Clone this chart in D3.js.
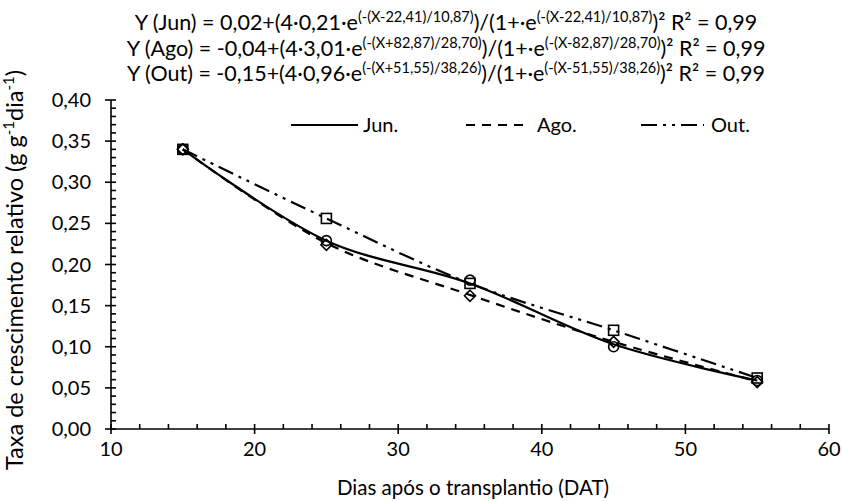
<!DOCTYPE html>
<html>
<head>
<meta charset="utf-8">
<script src="https://cdn.jsdelivr.net/npm/d3@7"></script>
<style>
  html, body { margin: 0; padding: 0; background: #fff; }
  svg text { font-family: Lato, "Open Sans", sans-serif; fill: #000; }
</style>
</head>
<body>
<svg id="chart" width="842" height="501"></svg>
<script>
// Days after transplanting
const days = [15, 25, 35, 45, 55];

// Relative growth rate, observed (markers)
const junObs = [0.340, 0.229, 0.181, 0.100, 0.059];
const agoObs = [0.340, 0.224, 0.162, 0.106, 0.057];
const outObs = [0.340, 0.256, 0.177, 0.120, 0.062];

// Relative growth rate, fitted curves (lines)
const junFit = [0.340, 0.229, 0.177, 0.103, 0.059];
const agoFit = [0.340, 0.226, 0.163, 0.106, 0.058];
const outFit = [0.340, 0.256, 0.177, 0.120, 0.062];

const xTicks = [10, 20, 30, 40, 50, 60];
const yTicks = [0, 0.05, 0.10, 0.15, 0.20, 0.25, 0.30, 0.35, 0.40];

// Regression equations: [prefix, exp1, middle, exp2, suffix]
const equations = [
  ["Y (Jun) = 0,02+(4·0,21·e", "(-(X-22,41)/10,87)", ")/(1+·e", "(-(X-22,41)/10,87)", ")² R² = 0,99"],
  ["Y (Ago) = -0,04+(4·3,01·e", "(-(X+82,87)/28,70)", ")/(1+·e", "(-(X-82,87)/28,70)", ")² R² = 0,99"],
  ["Y (Out) = -0,15+(4·0,96·e", "(-(X+51,55)/38,26)", ")/(1+·e", "(-(X-51,55)/38,26)", ")² R² = 0,99"]
];

const seriesNames = ["Jun.", "Ago.", "Out."];

const svg = d3.select("#chart");
const x = d3.scaleLinear().domain([10, 60]).range([111, 829]);
const y = d3.scaleLinear().domain([0, 0.40]).range([429, 100]);

const fmt = v => d3.format(".2f")(v).replace(".", ",");
const FS = 20;

// Axes
const axes = svg.append("g").attr("stroke", "#000").attr("stroke-width", 1.6);
axes.append("line").attr("x1", x(10)).attr("x2", x(60)).attr("y1", y(0)).attr("y2", y(0));
axes.append("line").attr("x1", x(10)).attr("x2", x(10)).attr("y1", y(0)).attr("y2", y(0.40));

// x minor ticks (every 2 days, inside)
axes.selectAll(".xminor").data(d3.range(12, 60, 2).filter(v => v % 10 !== 0)).join("line")
  .attr("x1", d => x(d)).attr("x2", d => x(d))
  .attr("y1", y(0)).attr("y2", y(0) - 5);
// x major ticks (cross)
axes.selectAll(".xmajor").data(xTicks).join("line")
  .attr("x1", d => x(d)).attr("x2", d => x(d))
  .attr("y1", y(0) - 5).attr("y2", y(0) + 5);

// y minor ticks (every 0.01, inside)
axes.selectAll(".yminor").data(d3.range(1, 40).filter(v => v % 5 !== 0).map(v => v / 100)).join("line")
  .attr("x1", x(10)).attr("x2", x(10) + 5)
  .attr("y1", d => y(d)).attr("y2", d => y(d));
// y major ticks (cross)
axes.selectAll(".ymajor").data(yTicks).join("line")
  .attr("x1", x(10) - 6).attr("x2", x(10) + 5)
  .attr("y1", d => y(d)).attr("y2", d => y(d));

// Tick labels
svg.append("g").selectAll("text").data(xTicks).join("text")
  .attr("x", d => x(d)).attr("y", y(0) + 27)
  .attr("text-anchor", "middle").attr("font-size", FS)
  .text(d => d);
svg.append("g").selectAll("text").data(yTicks).join("text")
  .attr("x", x(10) - 20).attr("y", d => y(d) + 7)
  .attr("text-anchor", "end").attr("font-size", FS)
  .text(d => fmt(d));

// Axis titles
svg.append("text").attr("x", 473).attr("y", 495).attr("text-anchor", "middle")
  .attr("font-size", 20.5).text("Dias após o transplantio (DAT)");

const yTitle = svg.append("text")
  .attr("transform", `translate(23,270) rotate(-90)`)
  .attr("text-anchor", "middle").attr("font-size", 23.5);
yTitle.append("tspan").text("Taxa de crescimento relativo (g g");
yTitle.append("tspan").attr("font-size", 15).attr("dy", -9).text("-1");
yTitle.append("tspan").attr("dy", 9).text("dia");
yTitle.append("tspan").attr("font-size", 15).attr("dy", -9).text("-1");
yTitle.append("tspan").attr("dy", 9).text(")");

// Equations
equations.forEach((eq, i) => {
  const t = svg.append("text").attr("x", 446).attr("y", 30 + i * 25.5)
    .attr("text-anchor", "middle").attr("font-size", 21.5);
  t.append("tspan").text(eq[0]);
  t.append("tspan").attr("font-size", 14.5).attr("dy", -8).text(eq[1]);
  t.append("tspan").attr("dy", 8).text(eq[2]);
  t.append("tspan").attr("font-size", 14.5).attr("dy", -8).text(eq[3]);
  t.append("tspan").attr("dy", 8).text(eq[4]);
});

// Line styles per series
const dashes = [null, "9,7", "16,6,3,6,3,6"];
const fits = [junFit, agoFit, outFit];

const line = d3.line().x((d, i) => x(days[i])).y(d => y(d)).curve(d3.curveCatmullRom.alpha(0.5));

fits.forEach((vals, k) => {
  svg.append("path").datum(vals)
    .attr("d", line)
    .attr("fill", "none").attr("stroke", "#000").attr("stroke-width", 2.2)
    .attr("stroke-dasharray", dashes[k]);
});

// Markers
const mk = svg.append("g").attr("fill", "none").attr("stroke", "#000").attr("stroke-width", 1.6);
mk.selectAll(".c").data(junObs).join("circle")
  .attr("cx", (d, i) => x(days[i])).attr("cy", d => y(d)).attr("r", 5);
mk.selectAll(".d").data(agoObs).join("path")
  .attr("d", (d, i) => {
    const cx = x(days[i]), cy = y(d), r = 5.5;
    return `M${cx},${cy - r}L${cx + r},${cy}L${cx},${cy + r}L${cx - r},${cy}Z`;
  });
mk.selectAll(".s").data(outObs).join("rect")
  .attr("x", (d, i) => x(days[i]) - 5).attr("y", d => y(d) - 5)
  .attr("width", 10).attr("height", 10);

// Legend
const legendX = [[291, 358, 363], [466, 528, 537], [641, 704, 711]];
const legend = svg.append("g");
seriesNames.forEach((name, k) => {
  const [a, b, tx] = legendX[k];
  legend.append("line").attr("x1", a).attr("x2", b).attr("y1", 125).attr("y2", 125)
    .attr("stroke", "#000").attr("stroke-width", 2.2).attr("stroke-dasharray", dashes[k]);
  legend.append("text").attr("x", tx).attr("y", 132).attr("font-size", FS).text(name);
});
</script>
</body>
</html>
